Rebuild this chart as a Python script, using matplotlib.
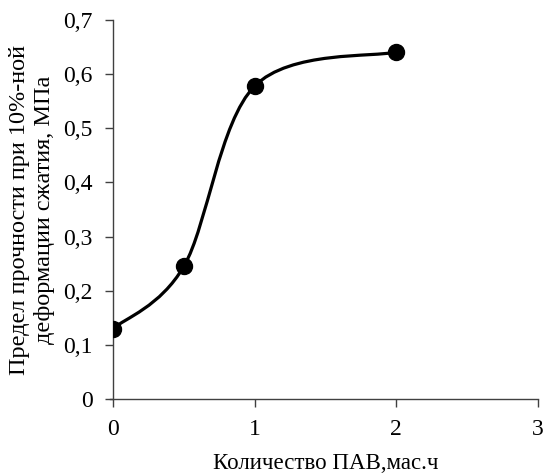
import matplotlib
matplotlib.use("Agg")
import matplotlib.pyplot as plt
from matplotlib.path import Path
from matplotlib.patches import PathPatch
from matplotlib.ticker import FuncFormatter

# data
surfactant = [0, 0.5, 1, 2]
strength = [0.13, 0.245, 0.578, 0.641]

x_ticks = [0, 1, 2, 3]
y_ticks = [0, 0.1, 0.2, 0.3, 0.4, 0.5, 0.6, 0.7]

x_label = "Количество ПАВ,мас.ч"
y_label = "Предел прочности при 10%-ной\nдеформации сжатия, МПа"

plt.rcParams['font.family'] = ['Liberation Serif', 'DejaVu Serif']


def smooth_path(xs, ys):
    """Excel-style smoothed line: cubic Bezier through each pair of points."""
    pts = list(zip(xs, ys))
    n = len(pts)
    verts = [pts[0]]
    codes = [Path.MOVETO]
    for i in range(n - 1):
        p0 = pts[max(i - 1, 0)]
        p1 = pts[i]
        p2 = pts[i + 1]
        p3 = pts[min(i + 2, n - 1)]
        c1 = (p1[0] + (p2[0] - p0[0]) / 6, p1[1] + (p2[1] - p0[1]) / 6)
        c2 = (p2[0] - (p3[0] - p1[0]) / 6, p2[1] - (p3[1] - p1[1]) / 6)
        verts += [c1, c2, p2]
        codes += [Path.CURVE4] * 3
    return Path(verts, codes)


fig = plt.figure(figsize=(5.44, 4.73), dpi=100)
ax = fig.add_axes([0.2077, 0.1564, 0.7813, 0.8013])

ax.add_patch(PathPatch(smooth_path(surfactant, strength), facecolor='none',
                       edgecolor='black', lw=2.3, capstyle='round', zorder=3))
ax.plot(surfactant, strength, 'o', color='black', ms=11.5, zorder=4)

ax.set_xlim(0, 3)
ax.set_ylim(0, 0.7)
ax.set_xticks(x_ticks)
ax.set_yticks(y_ticks)
ax.yaxis.set_major_formatter(FuncFormatter(lambda v, p: ('%g' % round(v, 2)).replace('.', ',')))

for side in ('top', 'right'):
    ax.spines[side].set_visible(False)
for side in ('left', 'bottom'):
    ax.spines[side].set_color('#404040')
    ax.spines[side].set_linewidth(1.0)
ax.spines['bottom'].set_bounds(-0.02, 3)

ax.tick_params(axis='both', direction='out', length=5.5, width=1.0,
               color='#404040', labelsize=17)
ax.tick_params(axis='x', pad=9)
ax.tick_params(axis='y', pad=9)
ax.set_clip_on(False)

ax.set_xlabel(x_label, fontsize=16.5, labelpad=9)
ax.set_ylabel(y_label, fontsize=17.5, labelpad=6, linespacing=1.25)

fig.savefig("out.png", dpi=100)
